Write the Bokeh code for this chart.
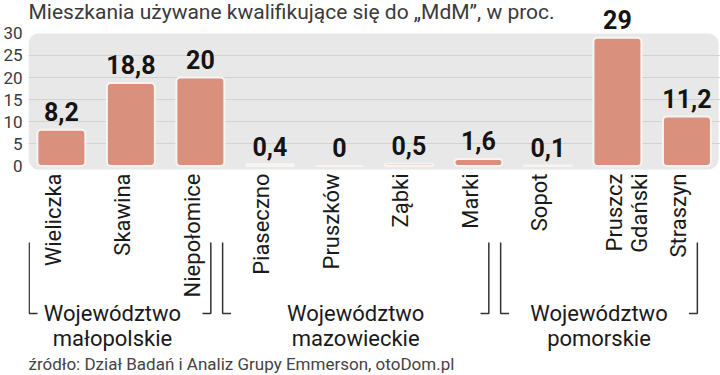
from math import pi
from bokeh.plotting import figure
from bokeh.models import Range1d, FixedTicker, BoxAnnotation
from bokeh.core.properties import value
from bokeh.embed import file_html
from bokeh.resources import INLINE

# ---- data ----
title_text = "Mieszkania używane kwalifikujące się do „MdM”, w proc."
source_note = "źródło: Dział Badań i Analiz Grupy Emmerson, otoDom.pl"
cities = ["Wieliczka", "Skawina", "Niepołomice", "Piaseczno", "Pruszków",
          "Ząbki", "Marki", "Sopot", "Pruszcz\nGdański", "Straszyn"]
shares = [8.2, 18.8, 20, 0.4, 0, 0.5, 1.6, 0.1, 29, 11.2]
regions = ["Województwo\nmałopolskie", "Województwo\nmazowieckie", "Województwo\npomorskie"]
region_first = [0, 3, 7]
region_last = [2, 6, 9]
y_ticks = [0, 5, 10, 15, 20, 25, 30]
grid_ticks = [5, 10, 15, 20, 25]

FONT = value("Roboto")
idx = list(range(len(cities)))
labels = [f"{v:g}".replace(".", ",") for v in shares]
city_dx = [10 if "\n" in c else -8 for c in cities]

x0, x1 = -0.473, 9.483
p = figure(width=720, height=375, output_backend="svg", toolbar_location=None,
           x_range=Range1d(x0, x1), y_range=Range1d(-47.4, 37.44),
           x_axis_location=None, min_border_left=26, min_border_right=0,
           min_border_top=0, min_border_bottom=0)
p.outline_line_color = None
p.xgrid.visible = False
p.ygrid.ticker = FixedTicker(ticks=grid_ticks)
p.ygrid.grid_line_color = "#d2d2d2"
p.ygrid.grid_line_width = 1

ax = p.yaxis[0]
ax.ticker = FixedTicker(ticks=y_ticks)
ax.axis_line_color = None
ax.major_tick_line_color = None
ax.minor_tick_line_color = None
ax.major_tick_out = 0
ax.major_tick_in = 0
ax.minor_tick_out = 0
ax.major_label_standoff = 6
ax.major_label_text_font = "Roboto"
ax.major_label_text_font_size = "17px"
ax.major_label_text_color = "#3a3a3a"

bg = BoxAnnotation(left=x0, right=9.455, bottom=-0.8, top=30,
                   fill_color="#e8e8e8", fill_alpha=1, line_color=None,
                   border_radius=10, level="image")
p.add_layout(bg)

p.vbar(x=idx, top=shares, bottom=0, width=0.69, fill_color="#d9907d",
       line_color="#f8f4f2", line_width=2, border_radius=4)

p.text(x=idx, y=shares, text=labels, text_align="center", text_baseline="alphabetic",
       y_offset=-18, text_font=FONT, text_font_style="bold", text_font_size="25px",
       text_color="#141414")

p.text(x=idx, y=[-1.7] * len(idx), text=cities, angle=pi / 2, text_align="right",
       text_baseline="middle", x_offset=city_dx, text_font=FONT, text_font_size="22px",
       text_color="#1a1a1a", text_line_height=1.0)

# region brackets
top_b, bot_b, stub = -17.3, -33.4, 0.12
xs, ys, cx = [], [], []
for f, l in zip(region_first, region_last):
    L = max(f - 0.68, x0 + 0.01)
    R = l + 0.15
    xs += [[L, L, L + stub], [R - stub, R, R]]
    ys += [[top_b, bot_b, bot_b], [bot_b, bot_b, top_b]]
    cx.append((f - 0.68 + R) / 2)
p.multi_line(xs=xs, ys=ys, line_color="#333333", line_width=1.5)

p.text(x=cx, y=[-36.2] * len(cx), text=regions, text_align="center",
       text_baseline="middle", text_font=FONT, text_font_size="22px",
       text_color="#1a1a1a", text_line_height=1.0)

p.text(x=[x0], y=[34.8], text=[title_text], text_align="left", text_baseline="alphabetic",
       text_font=FONT, text_font_size="21px", text_color="#3a3a3a")
p.text(x=[x0], y=[-44.7], text=[source_note], text_align="left", text_baseline="alphabetic",
       text_font=FONT, text_font_size="17px", text_color="#444444")

open("out.html", "w").write(file_html(p, INLINE))
